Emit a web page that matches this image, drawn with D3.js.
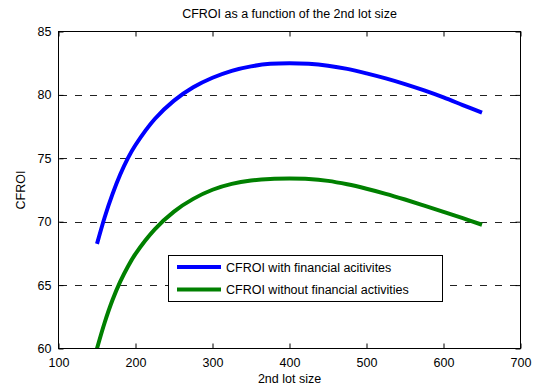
<!DOCTYPE html>
<html>
<head>
<meta charset="utf-8">
<script src="https://cdn.jsdelivr.net/npm/d3@7/dist/d3.min.js"></script>
<style>
  html, body { margin: 0; padding: 0; background: #fff; }
  svg { display: block; font-family: "Liberation Sans", Arial, Helvetica, sans-serif; }
</style>
</head>
<body>
<svg id="chart" width="539" height="389"></svg>
<script>
// Second lot size (x) and resulting CFROI for the two cases
const lotSize = [150, 160, 170, 180, 190, 200, 225, 250, 275, 300, 325, 350, 375, 400,
                 425, 450, 475, 500, 525, 550, 575, 600, 625, 650];
const cfroiWith = [68.25, 70.35, 72.15, 73.7, 75.0, 76.05, 78.1, 79.55, 80.6, 81.35, 81.9, 82.25, 82.45, 82.5,
                   82.45, 82.3, 82.05, 81.7, 81.3, 80.85, 80.35, 79.8, 79.2, 78.6];
const cfroiWithout = [60.0, 62.05, 63.8, 65.25, 66.45, 67.47, 69.4, 70.8, 71.8, 72.52, 72.98, 73.25, 73.37, 73.4,
                      73.37, 73.22, 72.95, 72.6, 72.2, 71.75, 71.27, 70.78, 70.28, 69.76];
const seriesNames = ["CFROI with financial acitivites", "CFROI without financial activities"];
const seriesColors = ["#0000ff", "#008000"];
const xTicks = [100, 200, 300, 400, 500, 600, 700];
const yTicks = [60, 65, 70, 75, 80, 85];

const svg = d3.select("#chart");
const L = 58.5, R = 520.5, T = 31.5, B = 348.5;

const x = d3.scaleLinear().domain([100, 700]).range([L, R]);
const y = d3.scaleLinear().domain([60, 85]).range([B, T]);

svg.append("defs").append("clipPath").attr("id", "plotClip")
  .append("rect").attr("x", L).attr("y", T).attr("width", R - L).attr("height", B - T);

// dashed horizontal grid
svg.append("g").selectAll("line")
  .data(yTicks.filter(v => v > 60 && v < 85))
  .join("line")
  .attr("x1", L).attr("x2", R)
  .attr("y1", d => Math.round(y(d)) + 0.5).attr("y2", d => Math.round(y(d)) + 0.5)
  .attr("stroke", "#222").attr("stroke-width", 1)
  .attr("stroke-dasharray", "7,8").attr("stroke-dashoffset", -1.5);

// axes: ticks point inward on all four sides
const tickLen = 5;
const bottomAxis = d3.axisBottom(x).tickValues(xTicks).tickSizeInner(-tickLen).tickSizeOuter(0).tickPadding(10);
const topAxis = d3.axisTop(x).tickValues(xTicks).tickSizeInner(-tickLen).tickSizeOuter(0).tickFormat("");
const leftAxis = d3.axisLeft(y).tickValues(yTicks).tickSizeInner(-tickLen).tickSizeOuter(0).tickPadding(7);
const rightAxis = d3.axisRight(y).tickValues(yTicks).tickSizeInner(-tickLen).tickSizeOuter(0).tickFormat("");

function styleAxis(g) {
  g.select(".domain").remove();
  g.selectAll(".tick line").attr("stroke", "#000");
  g.selectAll(".tick text").attr("fill", "#000").attr("font-size", 12.5)
    .attr("font-family", "'Liberation Sans', Arial, sans-serif");
}
svg.append("g").attr("transform", `translate(0,${B})`).call(bottomAxis).call(styleAxis);
svg.append("g").attr("transform", `translate(0,${T})`).call(topAxis).call(styleAxis);
svg.append("g").attr("transform", `translate(${L},0)`).call(leftAxis).call(styleAxis);
svg.append("g").attr("transform", `translate(${R},0)`).call(rightAxis).call(styleAxis);

// curves
const line = d3.line().x(d => x(d[0])).y(d => y(d[1])).curve(d3.curveCatmullRom.alpha(0.5));
const series = [cfroiWith, cfroiWithout];
svg.append("g").attr("clip-path", "url(#plotClip)")
  .selectAll("path").data(series).join("path")
  .attr("d", vals => line(lotSize.map((v, i) => [v, vals[i]])))
  .attr("fill", "none")
  .attr("stroke", (d, i) => seriesColors[i])
  .attr("stroke-width", 4)
  .attr("stroke-linejoin", "round");

// plot frame
svg.append("rect").attr("x", L).attr("y", T).attr("width", R - L).attr("height", B - T)
  .attr("fill", "none").attr("stroke", "#000").attr("stroke-width", 1);

// titles
svg.append("text").attr("x", (L + R) / 2).attr("y", 18).attr("text-anchor", "middle")
  .attr("font-size", 12.5).text("CFROI as a function of the 2nd lot size");
svg.append("text").attr("x", (L + R) / 2).attr("y", 383).attr("text-anchor", "middle")
  .attr("font-size", 12.5).text("2nd lot size");
svg.append("text").attr("transform", `translate(25,${(T + B) / 2}) rotate(-90)`)
  .attr("text-anchor", "middle").attr("font-size", 12.5).text("CFROI");

// legend
const leg = svg.append("g");
leg.append("rect").attr("x", 168.5).attr("y", 255.5).attr("width", 274).attr("height", 46)
  .attr("fill", "#fff").attr("stroke", "#000").attr("stroke-width", 1);
seriesNames.forEach((name, i) => {
  const yy = 267 + i * 22.5;
  leg.append("line").attr("x1", 177).attr("x2", 221).attr("y1", yy).attr("y2", yy)
    .attr("stroke", seriesColors[i]).attr("stroke-width", 4);
  leg.append("text").attr("x", 226).attr("y", yy + 4.5).attr("font-size", 12.5).text(name);
});
</script>
</body>
</html>
